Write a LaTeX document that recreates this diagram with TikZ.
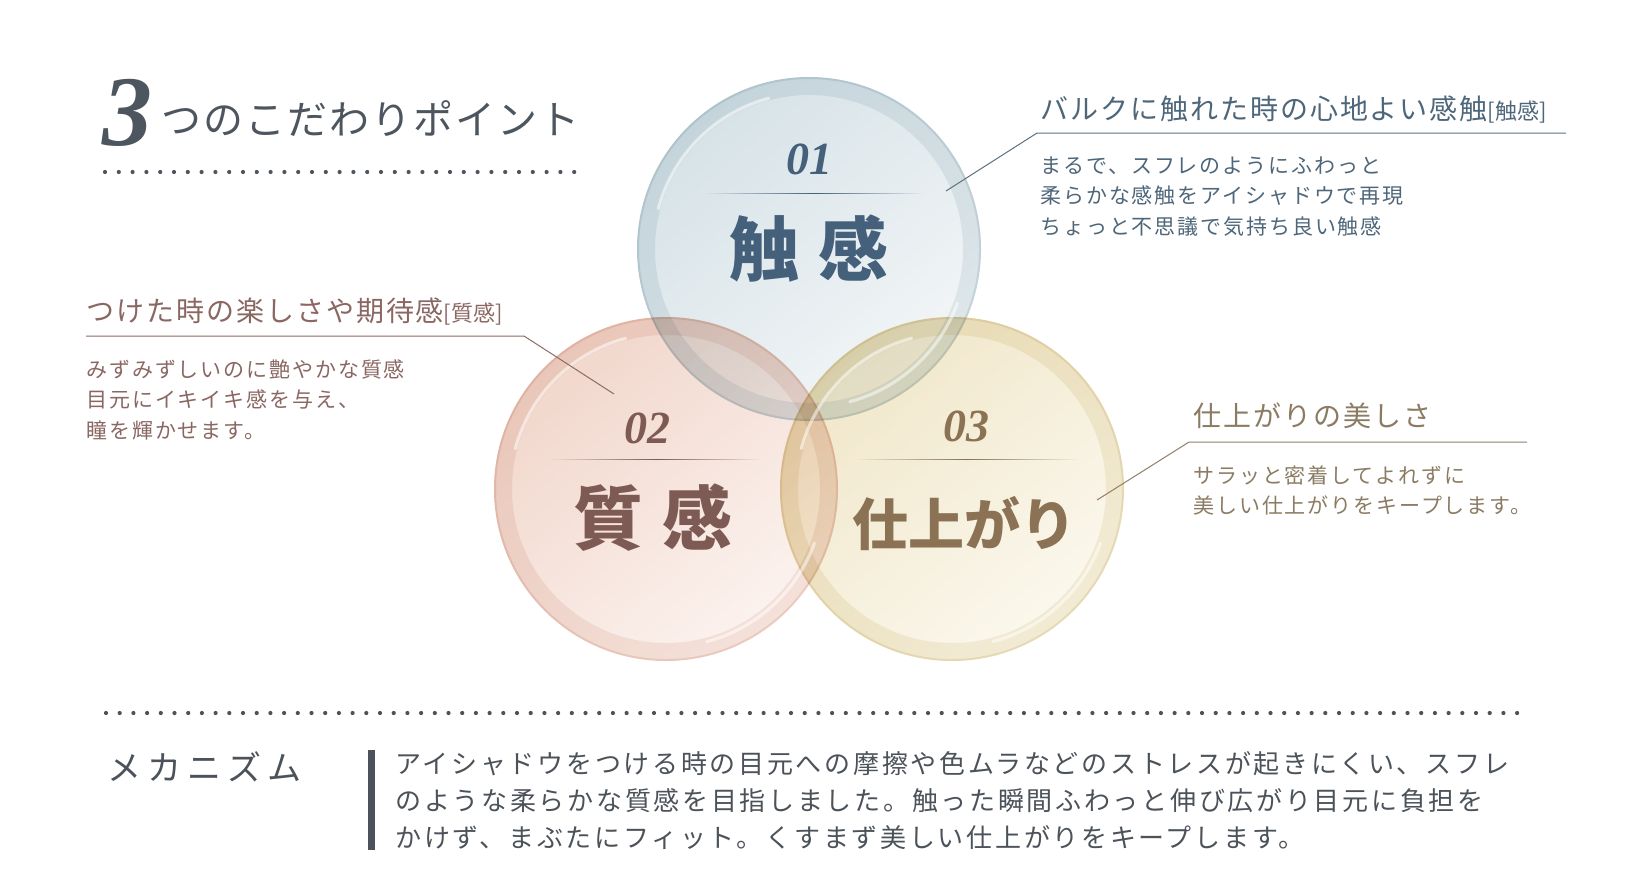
\documentclass[tikz,border=0pt]{standalone}
\usepackage{fontspec}
\setmainfont{Liberation Serif}
\newfontfamily\jp{Noto Sans CJK JP}
\newfontfamily\jptitle{Noto Sans CJK JP}[LetterSpace=5]
\newfontfamily\jphead{Noto Sans CJK JP}[LetterSpace=7]
\newfontfamily\jpdesc{Noto Sans CJK JP}[LetterSpace=9]
\newfontfamily\jpmech{Noto Sans CJK JP}[LetterSpace=18]
\newfontfamily\jpbody{Noto Sans CJK JP}[LetterSpace=10.4]
\usepackage{tikz}
\usetikzlibrary{positioning,fadings}
\definecolor{titlec}{HTML}{4D565E}
\definecolor{darkc}{HTML}{4C5259}
\definecolor{bluec}{HTML}{44607A}
\definecolor{blueh}{HTML}{4E6679}
\definecolor{bluel}{HTML}{5B7080}
\definecolor{pinkc}{HTML}{7E5A54}
\definecolor{pinkh}{HTML}{8A6762}
\definecolor{pinkl}{HTML}{8C6C66}
\definecolor{goldc}{HTML}{8B7254}
\definecolor{goldh}{HTML}{8B7B63}
\definecolor{goldl}{HTML}{8F7F66}
\definecolor{c1top}{HTML}{D6E2E7}
\definecolor{c1bot}{HTML}{F3F6F7}
\definecolor{c1rim}{HTML}{BACDD5}
\definecolor{c2top}{HTML}{F1D6CB}
\definecolor{c2bot}{HTML}{FCF3EF}
\definecolor{c2rim}{HTML}{E5C3B5}
\definecolor{c3top}{HTML}{F0E6C8}
\definecolor{c3bot}{HTML}{FBF8EE}
\definecolor{c3rim}{HTML}{E2D3A6}
\tikzfading[name=fade sides, left color=transparent!100, right color=transparent!100, middle color=transparent!0]

\begin{document}
\begin{tikzpicture}[x=0.5pt,y=-0.5pt,
  heading/.style={anchor=base west, inner sep=0pt, font=\jphead\fontsize{14}{16}\selectfont},
  desc/.style={anchor=north west, inner sep=0pt, align=left, font=\jpdesc\fontsize{10.5}{15.25}\selectfont},
  num/.style={inner sep=0pt, font=\bfseries\itshape\fontsize{23}{23}\selectfont},
  big/.style={inner sep=0pt, font=\jp\bfseries\fontsize{35}{35}\selectfont},
  bubble/.style={circle, minimum size=172pt, inner sep=0pt},
  leader/.style={line width=0.5pt}]
  \useasboundingbox (0,0) rectangle (1626,880);

  % title
  \node[anchor=base west, inner sep=0pt, titlec, font=\bfseries\itshape\fontsize{50}{50}\selectfont] (three) at (102,145) {3};
  \node[anchor=base west, inner sep=0pt, titlec, font=\jptitle\fontsize{20}{20}\selectfont] (title) at (161,134) {つのこだわりポイント};
  \foreach \i in {0,...,34} \fill[titlec] (105+13.8*\i,172) circle (1.05pt);

  % circles
  \node[bubble] (c1) at (809,249) {};
  \node[bubble] (c2) at (666,489) {};
  \node[bubble] (c3) at (952,489) {};
  \begin{scope}[blend mode=multiply]
    \foreach \c in {1,2,3} {
      \shade[top color=c\c top, bottom color=c\c bot, shading angle=40] (c\c.center) circle (86pt);
      \draw[c\c rim, line width=9pt, opacity=0.3] (c\c.center) circle (81.5pt);
      \draw[c\c rim, line width=1pt, opacity=0.4] (c\c.center) circle (85.5pt);
    }
  \end{scope}
  \foreach \c in {1,2,3} {
    \draw[white, line width=1.6pt, opacity=0.55, line cap=round] (c\c.center) ++(105:78pt) arc (105:165:78pt);
    \draw[white, line width=1.6pt, opacity=0.5, line cap=round] (c\c.center) ++(-20:79pt) arc (-20:-75:79pt);
  }

  % circle labels
  \node[num, bluec] (n1) at (809,159) {01};
  \fill[bluec, path fading=fade sides] (705,192.5) rectangle (923,194);
  \node[big, bluec] (k1) at (809,249) {触\hspace{10pt}感};
  \node[num, pinkc] (n2) at (647,428) {02};
  \fill[pinkc, path fading=fade sides] (550,458.5) rectangle (762,460);
  \node[big, pinkc] (k2) at (653,518) {質\hspace{10pt}感};
  \node[num, goldc] (n3) at (966,426) {03};
  \fill[goldc, path fading=fade sides] (855,458.5) rectangle (1078,460);
  \node[big, goldc, font=\jp\bfseries\fontsize{28}{28}\selectfont] (k3) at (964,524) {仕上がり};

  % callout 1
  \node[heading, blueh] (h1) at (1040,119) {バルクに触れた時の心地よい感触{\jp\fontsize{11}{11}\selectfont[触感]}};
  \coordinate (u1a) at (1566,133);
  \coordinate (u1b) at (1037,133);
  \coordinate (p1) at (946,191);
  \draw[leader, bluel] (u1a) -- (u1b) -- (p1);
  \node[desc, blueh] (d1) at (1040,156) {まるで、スフレのようにふわっと\\柔らかな感触をアイシャドウで再現\\ちょっと不思議で気持ち良い触感};

  % callout 2
  \node[heading, pinkh] (h2) at (86,321) {つけた時の楽しさや期待感{\jp\fontsize{11}{11}\selectfont[質感]}};
  \coordinate (u2a) at (86,336);
  \coordinate (u2b) at (524,336);
  \coordinate (p2) at (614,394);
  \draw[leader, pinkl] (u2a) -- (u2b) -- (p2);
  \node[desc, pinkh] (d2) at (86,359) {みずみずしいのに艶やかな質感\\目元にイキイキ感を与え、\\瞳を輝かせます。};

  % callout 3
  \node[heading, goldh] (h3) at (1193,426) {仕上がりの美しさ};
  \coordinate (u3a) at (1527,442);
  \coordinate (u3b) at (1189,442);
  \coordinate (p3) at (1097,500);
  \draw[leader, goldl] (u3a) -- (u3b) -- (p3);
  \node[desc, goldh] (d3) at (1193,465) {サラッと密着してよれずに\\美しい仕上がりをキープします。};

  % mechanism
  \foreach \i in {0,...,103} \fill[darkc] (106+13.7*\i,713) circle (1.05pt);
  \node[anchor=base west, inner sep=0pt, darkc, font=\jpmech\fontsize{17}{17}\selectfont] (mech) at (107,780) {メカニズム};
  \fill[darkc] (368,750) rectangle (375,850);
  \node[anchor=north west, inner sep=0pt, align=left, darkc, font=\jpbody\fontsize{13}{18.5}\selectfont] (body) at (395,751) {アイシャドウをつける時の目元への摩擦や色ムラなどのストレスが起きにくい、スフレ\\のような柔らかな質感を目指しました。触った瞬間ふわっと伸び広がり目元に負担を\\かけず、まぶたにフィット。くすまず美しい仕上がりをキープします。};
\end{tikzpicture}
\end{document}
